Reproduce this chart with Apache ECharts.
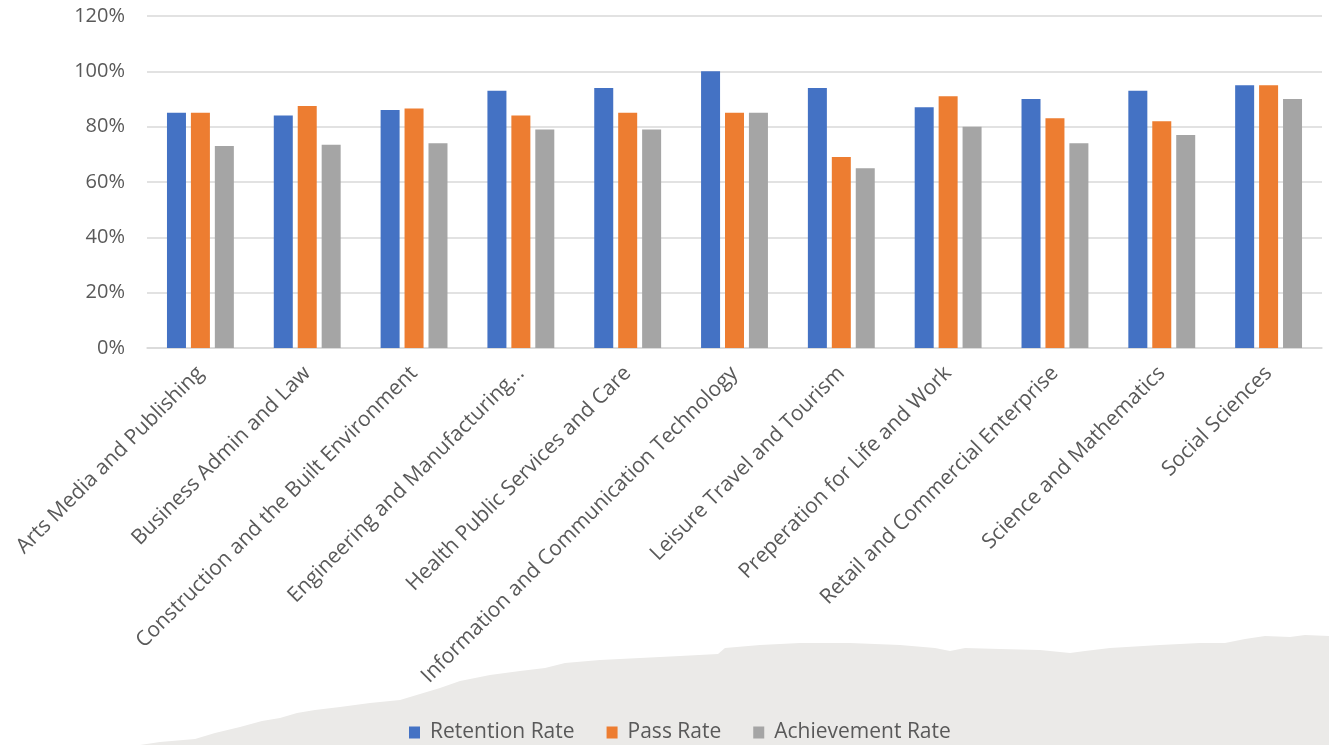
<!DOCTYPE html>
<html>
<head>
<meta charset="utf-8">
<script src="https://cdn.jsdelivr.net/npm/echarts@6/dist/echarts.min.js"></script>
<style>
  html, body { margin: 0; padding: 0; background: #fff; }
  #chart { width: 1329px; height: 745px; }
</style>
</head>
<body>
<div id="chart"></div>
<script>
// Subject areas
const categories = [
  'Arts Media and Publishing',
  'Business Admin and Law',
  'Construction and the Built Environment',
  'Engineering and Manufacturing...',
  'Health Public Services and Care',
  'Information and Communication Technology',
  'Leisure Travel and Tourism',
  'Preperation for Life and Work',
  'Retail and Commercial Enterprise',
  'Science and Mathematics',
  'Social Sciences'
];

// Rates in percent
const retentionRate   = [85, 84, 86, 93, 94, 100, 94, 87, 90, 93, 95];
const passRate        = [85, 87.5, 86.6, 84, 85, 85, 69, 91, 83, 82, 95];
const achievementRate = [73, 73.5, 74, 79, 79, 85, 65, 80, 74, 77, 90];

const seriesNames = ['Retention Rate', 'Pass Rate', 'Achievement Rate'];
const seriesColors = ['#4472C4', '#ED7D31', '#A5A5A5'];

// Torn-paper backdrop behind the legend
const paperEdge = [
  [140,745],[160,742],[195,739],[215,733],[240,727],[262,721],[280,718],[297,713],
  [315,710],[340,707],[370,703],[400,700],[420,694],[440,688],[460,681],[490,675],
  [520,671],[545,668],[565,663],[600,660],[640,658],[680,656],[718,654],[725,648],
  [760,645],[800,643],[850,643],[900,645],[935,648],[950,651],[965,648],[1000,649],
  [1040,650],[1070,653],[1085,651],[1110,648],[1160,645],[1200,643],[1225,643],
  [1245,639],[1265,636],[1290,637],[1305,635],[1329,636],[1329,745]
];

const font = '"Open Sans", "Noto Sans", sans-serif';
const chart = echarts.init(document.getElementById('chart'), null, { renderer: 'canvas' });

const makeBar = (name, data, color) => ({
  name: name,
  type: 'bar',
  data: data,
  barWidth: 19,
  barGap: '26%',
  itemStyle: { color: color },
  z: 3
});

chart.setOption({
  animation: false,
  backgroundColor: '#ffffff',
  color: seriesColors,
  graphic: [{
    type: 'polygon',
    z: 0,
    silent: true,
    shape: { points: paperEdge },
    style: { fill: '#EBEAE8' }
  }],
  grid: { left: 147, right: 7, top: 16, bottom: 397, containLabel: false },
  legend: {
    data: seriesNames,
    left: 409,
    top: 722,
    padding: 0,
    icon: 'rect',
    itemWidth: 11,
    itemHeight: 12,
    itemGap: 32,
    textStyle: { fontFamily: font, fontSize: 21, color: '#595959', padding: [0, 0, 0, 5] }
  },
  xAxis: {
    type: 'category',
    data: categories,
    axisLine: { show: true, lineStyle: { color: '#D9D9D9', width: 1.5 } },
    axisTick: { show: false },
    axisLabel: {
      interval: 0,
      rotate: 45,
      margin: 22,
      fontFamily: font,
      fontSize: 21,
      color: '#595959'
    }
  },
  yAxis: {
    type: 'value',
    min: 0,
    max: 120,
    interval: 20,
    axisLine: { show: false },
    axisTick: { show: false },
    splitLine: { lineStyle: { color: '#D9D9D9', width: 1.5 } },
    axisLabel: {
      formatter: '{value}%',
      margin: 22,
      fontFamily: font,
      fontSize: 20,
      color: '#595959'
    }
  },
  series: [
    makeBar(seriesNames[0], retentionRate, seriesColors[0]),
    makeBar(seriesNames[1], passRate, seriesColors[1]),
    makeBar(seriesNames[2], achievementRate, seriesColors[2])
  ]
});
</script>
</body>
</html>
